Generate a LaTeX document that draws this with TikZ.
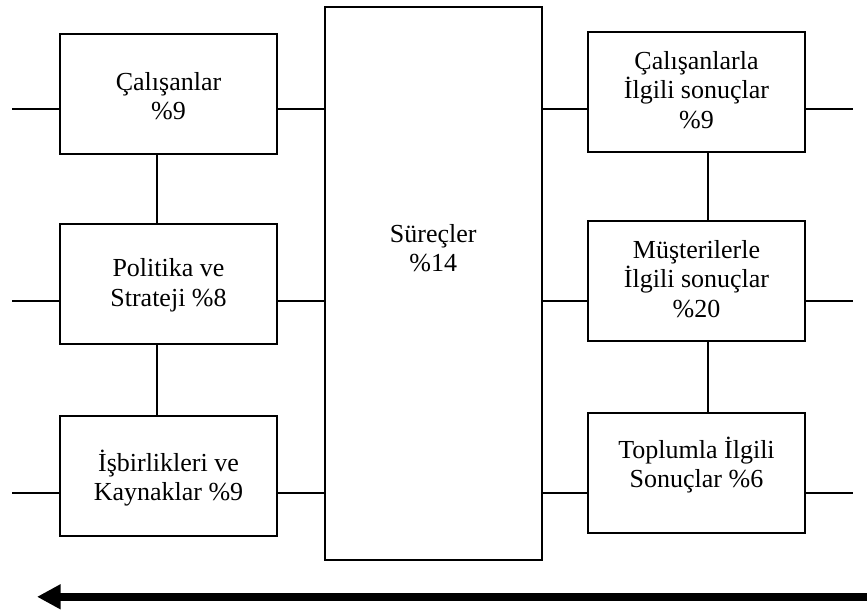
\documentclass[tikz,border=0pt]{standalone}
\usepackage{fontspec}
\setmainfont{Liberation Serif}
\usetikzlibrary{arrows.meta}
\begin{document}
\begin{tikzpicture}[x=1pt,y=-1pt,
  box/.style={draw, line width=1.8pt, inner sep=0pt, outer sep=0pt,
    minimum width=217pt, minimum height=120pt},
  boxtext/.style={align=center, inner sep=0pt,
    font=\fontsize{26}{29.5}\selectfont},
  link/.style={line width=1.8pt},
  flow/.style={line width=8.3pt, -{Triangle[length=23.5pt,width=23.5pt]}}]
\useasboundingbox (0,0) rectangle (867,610);

% left column
\node[box] (l1) at (168.5,94) {};
\node[box] (l2) at (168.5,284) {};
\node[box] (l3) at (168.5,476) {};
\node[boxtext] (l1t) at (168.5,96) {Çalışanlar\\\%9};
\node[boxtext] (l2t) at (168.5,285) {Politika ve\\Strateji \%8};
\node[boxtext] (l3t) at (168.5,478) {İşbirlikleri ve\\Kaynaklar \%9};

% central process block
\node[box, minimum width=216.7pt, minimum height=552.7pt] (c) at (433.3,283.7) {};
\node[boxtext] (ct) at (433.3,248) {Süreçler\\\%14};

% right column
\node[box, minimum height=120.6pt] (r1) at (696.5,92) {};
\node[box] (r2) at (696.5,280.7) {};
\node[box, minimum height=120.3pt] (r3) at (696.5,472.9) {};
\node[boxtext] (r1t) at (696.5,90) {Çalışanlarla\\İlgili sonuçlar\\\%9};
\node[boxtext] (r2t) at (696.5,279) {Müşterilerle\\İlgili sonuçlar\\\%20};
\node[boxtext] (r3t) at (696.5,465) {Toplumla İlgili\\Sonuçlar \%6};

% free ends of the horizontal links
\coordinate (a1) at (12,109);   \coordinate (b1) at (853,109);
\coordinate (a2) at (12,301);   \coordinate (b2) at (853,301);
\coordinate (a3) at (12,493);   \coordinate (b3) at (853,493);
% columns of the vertical links
\coordinate (vl) at (157,0);
\coordinate (vr) at (708,0);

% horizontal links
\foreach \i in {1,2,3}{
  \draw[link] (a\i) -- (a\i -| l\i.west);
  \draw[link] (a\i -| l\i.east) -- (a\i -| c.west);
  \draw[link] (a\i -| c.east) -- (a\i -| r\i.west);
  \draw[link] (a\i -| r\i.east) -- (b\i);
}

% vertical links
\draw[link] (vl |- l1.south) -- (vl |- l2.north);
\draw[link] (vl |- l2.south) -- (vl |- l3.north);
\draw[link] (vr |- r1.south) -- (vr |- r2.north);
\draw[link] (vr |- r2.south) -- (vr |- r3.north);

% direction arrow along the bottom
\coordinate (fr) at (867,596.8);
\coordinate (fl) at (37,596.8);
\draw[flow] (fr) -- (fl);
\end{tikzpicture}
\end{document}
